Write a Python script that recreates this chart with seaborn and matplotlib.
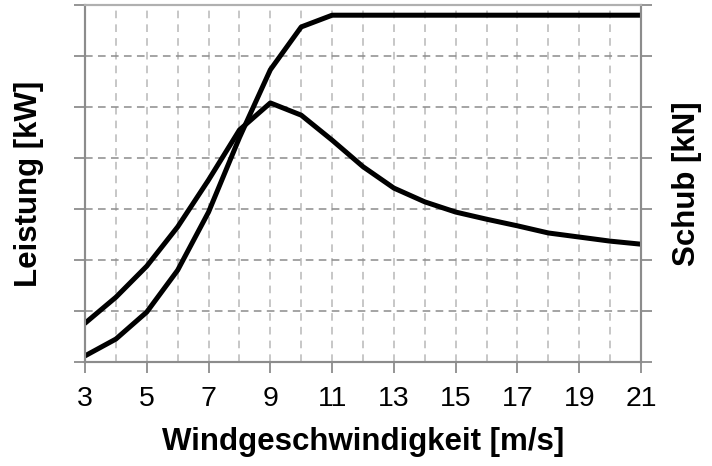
import matplotlib
matplotlib.use("Agg")
import matplotlib.pyplot as plt
import seaborn as sns
import pandas as pd

wind = [3, 4, 5, 6, 7, 8, 9, 10, 11, 12, 13, 14, 15, 16, 17, 18, 19, 20, 21]
leistung = [0.12, 0.45, 0.98, 1.80, 2.94, 4.40, 5.73, 6.57, 6.80, 6.80, 6.80, 6.80,
            6.80, 6.80, 6.80, 6.80, 6.80, 6.80, 6.80]
schub = [0.76, 1.27, 1.88, 2.65, 3.57, 4.55, 5.08, 4.84, 4.35, 3.83, 3.41, 3.14,
         2.94, 2.80, 2.67, 2.53, 2.45, 2.37, 2.31]
xticks = [3, 5, 7, 9, 11, 13, 15, 17, 19, 21]

df = pd.DataFrame({"wind": wind, "leistung": leistung, "schub": schub})

sns.set_theme(style="white")
plt.rcParams["font.family"] = ["Liberation Sans", "DejaVu Sans"]
plt.rcParams["text.color"] = "black"
plt.rcParams["axes.labelcolor"] = "black"
plt.rcParams["xtick.labelcolor"] = "black"
plt.rcParams["ytick.labelcolor"] = "black"

fig = plt.figure(figsize=(7.12, 4.66), dpi=100)
ax = fig.add_axes([85 / 712, 1 - 362 / 466, (641 - 85) / 712, (362 - 5) / 466])

sns.lineplot(data=df, x="wind", y="leistung", ax=ax, color="black", linewidth=3.6)
ax2 = ax.twinx()
sns.lineplot(data=df, x="wind", y="schub", ax=ax2, color="black", linewidth=3.6)

for a in (ax, ax2):
    a.set_xlim(3, 21)
    a.set_ylim(0, 7)
    a.set_yticks(range(0, 8))
    a.set_yticklabels([])
    a.set_ylabel("")

ax.set_xticks(range(3, 22), minor=True)
ax.set_xticks(xticks)
ax.set_xticklabels([str(t) for t in xticks], fontsize=20.5, color="black")
ax.grid(True, which="major", axis="y", color="#8c8c8c", linestyle=(0, (5, 3.5)), linewidth=1.1)
ax.grid(True, which="both", axis="x", color="#b8b8b8", linestyle=(0, (5, 4)), linewidth=1.1)
ax.set_axisbelow(True)

for a in (ax, ax2):
    for s in a.spines.values():
        s.set_color("#8c8c8c")
        s.set_linewidth(1.5)
    a.spines["top"].set_color("#b0b0b0")

ax.tick_params(axis="x", which="major", direction="out", length=8, width=1.3,
               color="#8c8c8c", bottom=True, pad=9)
ax.tick_params(axis="x", which="minor", length=0)
ax.tick_params(axis="y", direction="out", length=8, width=1.3, color="#8c8c8c", left=True)
ax2.tick_params(axis="y", direction="out", length=8, width=1.3, color="#8c8c8c", right=True)

ax.set_xlabel("Windgeschwindigkeit [m/s]", fontsize=22.5, fontweight="bold", color="black")
ax.set_ylabel("Leistung [kW]", fontsize=22.5, fontweight="bold", color="black")
ax2.set_ylabel("Schub [kN]", fontsize=22.5, fontweight="bold", color="black")
ax.xaxis.set_label_coords(0.5, (362 - 427) / 357)
ax.yaxis.set_label_coords((44 - 85) / 556, 0.5)
ax2.yaxis.set_label_coords((672 - 85) / 556, 0.5)

fig.savefig("out.png", dpi=100)
